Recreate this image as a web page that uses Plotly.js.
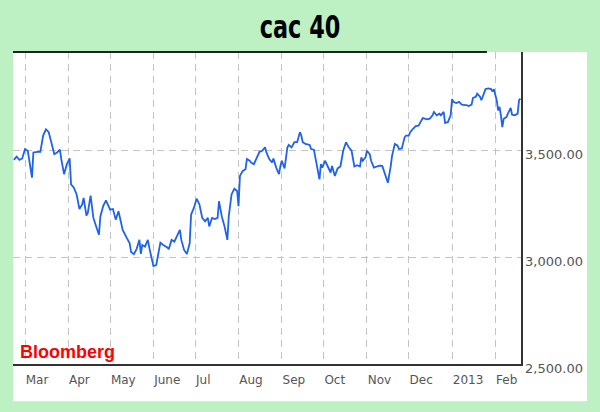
<!DOCTYPE html>
<html>
<head>
<meta charset="utf-8">
<script src="https://cdn.plot.ly/plotly-3.0.1.min.js"></script>
<style>html,body{margin:0;padding:0;background:#bdf0c3;}#chart{width:600px;height:412px;}</style>
</head>
<body>
<div id="chart"></div>
<script>
const titleText = "cac 40";
const sourceText = "Bloomberg";
const monthTicks = ["2012-03-01","2012-04-01","2012-05-01","2012-06-01","2012-07-01","2012-08-01","2012-09-01","2012-10-01","2012-11-01","2012-12-01","2013-01-01","2013-02-01"];
const monthLabels = ["Mar","Apr","May","June","Jul","Aug","Sep","Oct","Nov","Dec","2013","Feb"];
const yTicks = [2500, 3000, 3500];
const dates = [
"2012-02-22","2012-02-24","2012-02-26","2012-02-28","2012-03-01","2012-03-03","2012-03-06","2012-03-07","2012-03-10","2012-03-12",
"2012-03-14","2012-03-16","2012-03-18","2012-03-20","2012-03-22","2012-03-24","2012-03-26","2012-03-27","2012-03-29","2012-03-31",
"2012-04-02","2012-04-03","2012-04-05","2012-04-07","2012-04-09","2012-04-11","2012-04-12","2012-04-14","2012-04-15","2012-04-17",
"2012-04-19","2012-04-21","2012-04-23","2012-04-24","2012-04-26","2012-04-28","2012-04-30","2012-05-01","2012-05-03","2012-05-05",
"2012-05-07","2012-05-09","2012-05-10","2012-05-13","2012-05-15","2012-05-16","2012-05-18","2012-05-20","2012-05-22","2012-05-23",
"2012-05-24","2012-05-26","2012-05-28","2012-05-29","2012-05-30","2012-06-01","2012-06-03","2012-06-06","2012-06-08","2012-06-11",
"2012-06-12","2012-06-14","2012-06-16","2012-06-18","2012-06-20","2012-06-21","2012-06-23","2012-06-25","2012-06-27","2012-06-28",
"2012-06-30","2012-07-02","2012-07-04","2012-07-06","2012-07-08","2012-07-10","2012-07-11","2012-07-13","2012-07-15","2012-07-17",
"2012-07-18","2012-07-20","2012-07-22","2012-07-24","2012-07-25","2012-07-27","2012-07-29","2012-07-31","2012-08-01","2012-08-02",
"2012-08-04","2012-08-06","2012-08-07","2012-08-09","2012-08-10","2012-08-12","2012-08-14","2012-08-16","2012-08-18","2012-08-20",
"2012-08-21","2012-08-23","2012-08-25","2012-08-26","2012-08-28","2012-08-30","2012-08-31","2012-09-01","2012-09-03","2012-09-05",
"2012-09-06","2012-09-08","2012-09-10","2012-09-12","2012-09-14","2012-09-15","2012-09-16","2012-09-18","2012-09-21","2012-09-22",
"2012-09-24","2012-09-26","2012-09-27","2012-09-28","2012-09-29","2012-09-30","2012-10-02","2012-10-04","2012-10-06","2012-10-07",
"2012-10-09","2012-10-11","2012-10-13","2012-10-15","2012-10-17","2012-10-19","2012-10-21","2012-10-23","2012-10-25","2012-10-27",
"2012-10-28","2012-10-29","2012-10-31","2012-11-01","2012-11-03","2012-11-04","2012-11-06","2012-11-08","2012-11-10","2012-11-12",
"2012-11-14","2012-11-16","2012-11-18","2012-11-19","2012-11-21","2012-11-23","2012-11-24","2012-11-26","2012-11-28","2012-11-29",
"2012-12-01","2012-12-02","2012-12-04","2012-12-06","2012-12-08","2012-12-10","2012-12-11","2012-12-13","2012-12-14","2012-12-16",
"2012-12-18","2012-12-19","2012-12-21","2012-12-23","2012-12-24","2012-12-26","2012-12-27","2012-12-29","2012-12-31","2013-01-01",
"2013-01-02","2013-01-04","2013-01-06","2013-01-08","2013-01-10","2013-01-12","2013-01-13","2013-01-15","2013-01-16","2013-01-18",
"2013-01-19","2013-01-21","2013-01-22","2013-01-24","2013-01-25","2013-01-27","2013-01-29","2013-01-30","2013-01-31","2013-02-01",
"2013-02-02","2013-02-03","2013-02-04","2013-02-05","2013-02-06","2013-02-07","2013-02-09","2013-02-10","2013-02-12","2013-02-13",
"2013-02-15","2013-02-17","2013-02-18","2013-02-19"
];
const values = [
3457,3472,3457,3464,3508,3500,3374,3492,3495,3495,
3571,3600,3587,3540,3484,3492,3505,3461,3390,3437,
3464,3342,3327,3295,3227,3248,3279,3196,3208,3290,
3185,3145,3106,3192,3240,3267,3240,3224,3227,3177,
3216,3153,3129,3090,3066,3025,3015,3040,3082,3016,
3058,3050,3082,3047,3019,2959,2964,3069,3058,3047,
3038,3082,3074,3098,3129,3082,3035,3016,3066,3200,
3232,3275,3248,3185,3169,3185,3145,3185,3180,3185,
3263,3192,3145,3082,3192,3295,3322,3311,3240,3382,
3405,3413,3461,3453,3445,3437,3469,3495,3500,3516,
3492,3461,3445,3464,3421,3390,3429,3453,3417,3516,
3527,3516,3540,3540,3587,3571,3540,3532,3527,3508,
3505,3437,3413,3366,3437,3421,3453,3421,3398,3429,
3382,3417,3426,3500,3540,3516,3500,3426,3432,3426,
3469,3453,3469,3500,3484,3453,3421,3426,3430,3429,
3390,3350,3425,3476,3532,3524,3508,3511,3563,3571,
3571,3587,3603,3616,3618,3642,3653,3650,3647,3650,
3666,3682,3666,3674,3666,3682,3631,3634,3666,3742,
3729,3724,3729,3716,3716,3713,3710,3716,3748,3753,
3768,3753,3737,3768,3789,3792,3789,3777,3789,3761,
3737,3689,3706,3666,3611,3650,3658,3674,3701,3669,
3666,3674,3737,3745
];

const gridStyle = {gridcolor: "#c4c4c4", gridwidth: 1, griddash: "7px,5px"};
const trace = {
  x: dates, y: values, type: "scatter", mode: "lines",
  line: {color: "#1f62ec", width: 1.8}, hoverinfo: "skip"
};
const layout = {
  width: 600, height: 412,
  margin: {l: 13, r: 79, t: 52, b: 48, pad: 0},
  paper_bgcolor: "#bdf0c3", plot_bgcolor: "#ffffff",
  showlegend: false,
  title: {text: titleText, x: 0.5, xref: "container", xanchor: "center", y: 0.936, yref: "container", yanchor: "middle",
    font: {family: "DejaVu Sans, sans-serif", size: 32, weight: 700, color: "#000"}},
  xaxis: Object.assign({
    type: "date", range: ["2012-02-21 09:36", "2013-02-19 09:36"],
    tickmode: "array", tickvals: monthTicks, ticktext: monthLabels,
    ticklabelposition: "outside right", ticklabelstandoff: 4,
    showgrid: true, zeroline: false, showline: true, linecolor: "#333", linewidth: 1.5,
    ticks: "", tickfont: {family: "DejaVu Sans, sans-serif", size: 12, color: "#555"}, fixedrange: true
  }, gridStyle),
  yaxis: Object.assign({
    side: "right", range: [2500, 3963],
    tickmode: "array", tickvals: yTicks, tickformat: ",.2f", ticklabelshift: 4,
    showgrid: true, zeroline: false, showline: true, linecolor: "#333", linewidth: 1.5,
    ticks: "", tickfont: {family: "DejaVu Sans, sans-serif", size: 13, color: "#555"}, fixedrange: true
  }, gridStyle),
  shapes: [
    {type: "rect", xref: "paper", yref: "paper", x0: 0, x1: 1.13, y0: -0.119, y1: 1, fillcolor: "#ffffff", line: {width: 0}, layer: "below"},
    {type: "line", xref: "paper", yref: "paper", x0: 0, x1: 0.933, y0: 1, y1: 1, line: {color: "#222", width: 2}}
  ],
  annotations: [
    {text: sourceText, xref: "paper", yref: "paper", x: 0.01, y: 0.038, xanchor: "left", yanchor: "middle", showarrow: false,
     font: {family: "Liberation Sans, Arial, sans-serif", size: 18, weight: 700, color: "#ff0000"}}
  ]
};
Plotly.newPlot("chart", [trace], layout, {displayModeBar: false, staticPlot: true}).then(function (gd) {
  // condense the heavy title to match the narrow display face of the original
  const t = gd.querySelector(".gtitle");
  if (t) {
    t.style.transformBox = "fill-box";
    t.style.transformOrigin = "50% 50%";
    t.style.transform = "scaleX(0.7)";
  }
});
</script>
</body>
</html>
